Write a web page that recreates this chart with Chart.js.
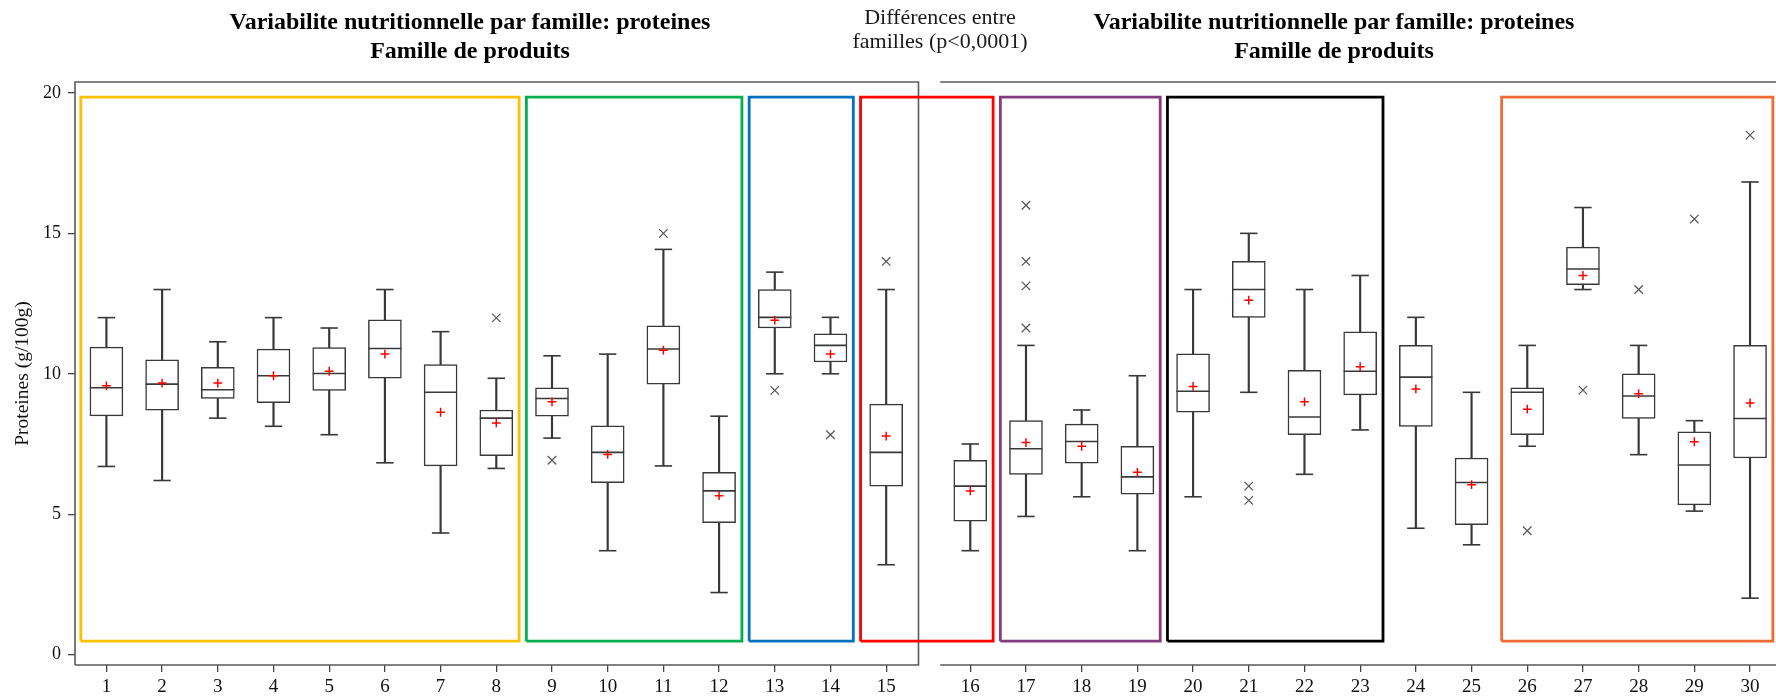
<!DOCTYPE html>
<html lang="fr">
<head>
<meta charset="utf-8">
<title>Variabilite nutritionnelle par famille: proteines</title>
<script src="https://cdn.jsdelivr.net/npm/chart.js@4.4.1/dist/chart.umd.min.js"></script>
<style>
body{margin:0;background:#fff;}
#wrap{position:relative;width:1776px;height:699px;overflow:hidden;}
#wrap canvas{position:absolute;left:0;top:0;}
.title{position:absolute;top:7px;width:600px;text-align:center;font-family:"Liberation Serif",serif;font-weight:bold;font-size:24px;line-height:29px;color:#000;white-space:nowrap;}
.note{position:absolute;left:740px;top:5px;width:400px;text-align:center;font-family:"Liberation Serif",serif;font-size:22px;line-height:24px;color:#1a1a1a;white-space:nowrap;}
</style>
</head>
<body>
<div id="wrap">
<canvas id="proteinChart" width="1776" height="699"></canvas>
<div class="title" style="left:170px">Variabilite nutritionnelle par famille: proteines<br>Famille de produits</div>
<div class="title" style="left:1034px">Variabilite nutritionnelle par famille: proteines<br>Famille de produits</div>
<div class="note">Différences entre<br>familles (p&lt;0,0001)</div>
</div>
<script>
// Box plot values per product (g/100g)

const categories = ["1","2","3","4","5","6","7","8","9","10","11","12","13","14","15",
"16","17","18","19","20","21","22","23","24","25","26","27","28","29","30"];

const whiskerLow = [6.7,6.2,8.42,8.13,7.83,6.83,4.33,6.63,7.71,3.7,6.72,2.21,10.0,10.0,3.2,
3.7,4.92,5.62,3.7,5.62,9.34,6.42,8.0,4.5,3.91,7.42,13.0,7.12,5.11,2.01];

const q1 = [8.5,8.7,9.12,8.97,9.41,9.84,6.72,7.08,8.49,6.12,9.63,4.7,11.63,10.42,6.0,
4.75,6.42,6.82,5.71,8.63,12.01,7.83,9.25,8.13,4.63,7.83,13.17,8.41,5.33,7.0];

const median = [9.5,9.63,9.43,9.93,10.01,10.9,9.34,8.42,9.12,7.2,10.88,5.83,12.01,11.01,7.2,
6.0,7.33,7.59,6.33,9.38,13.0,8.46,10.09,9.88,6.13,9.34,13.73,9.21,6.75,8.41];

const q3 = [10.95,10.5,10.23,10.88,10.93,11.92,10.33,8.71,9.5,8.15,11.71,6.49,13.0,11.42,8.92,
6.92,8.33,8.21,7.42,10.71,14.0,10.12,11.49,11.01,7.0,9.5,14.51,10.0,7.93,11.01];

const whiskerHigh = [12.0,13.0,11.14,12.0,11.63,13.0,11.5,9.84,10.64,10.7,14.43,8.49,13.62,12.01,13.0,
7.5,11.01,8.71,9.93,13.0,15.0,13.0,13.5,12.01,9.34,11.01,15.92,11.01,8.33,16.83];

const means = [9.57,9.67,9.67,9.93,10.09,10.7,8.63,8.25,9.0,7.13,10.84,5.66,11.91,10.7,7.78,
5.83,7.55,7.42,6.49,9.55,12.62,9.0,10.25,9.46,6.05,8.74,13.5,9.29,7.58,8.96];

const outlierCategory = [8,9,11,13,14,15,17,17,17,17,21,21,26,27,28,29,30];
const outlierValue = [11.99,6.92,15.0,9.41,7.83,14.0,16.0,14.0,13.13,11.63,6.0,5.49,4.41,9.42,13.0,15.51,18.5];

const yTicks = [0,5,10,15,20];

// product families (first and last product of each framed group)
const groupFirst = [1,9,13,15,17,20,26];
const groupLast = [8,12,14,16,19,23,30];

// broken axis: products 16-30 sit after a small gap
const gap = 0.51;
function xPos(cat){
return cat <= 15 ? cat : cat + gap;
}

const groupColors = ["#FFC000","#00B050","#0070C0","#FF0000","#843C7C","#000000","#EE6C33"];
const ink = "#383838";

const boxes = categories.map((c,i)=>({x:xPos(i+1),y:[q1[i],q3[i]]}));
const lowLines = categories.map((c,i)=>({x:xPos(i+1),y:[whiskerLow[i],q1[i]]}));
const highLines = categories.map((c,i)=>({x:xPos(i+1),y:[q3[i],whiskerHigh[i]]}));
const medians = categories.map((c,i)=>({x:xPos(i+1),y:median[i]}));
const caps = categories.flatMap((c,i)=>[
{x:xPos(i+1),y:whiskerLow[i]},
{x:xPos(i+1),y:whiskerHigh[i]}
]);
const meanPoints = categories.map((c,i)=>({x:xPos(i+1),y:means[i]}));
const outlierPoints = outlierCategory.map((c,i)=>({x:xPos(c),y:outlierValue[i]}));

const groupSets = groupFirst.map((first,g)=>{
const l = xPos(first) - 0.46;
const r = xPos(groupLast[g]) + 0.41;
return {
type:"line",
data:[{x:l,y:0.48},{x:l,y:19.85},{x:r,y:19.85},{x:r,y:0.48},{x:l,y:0.48}],
borderColor:groupColors[g],
borderWidth:2.8,
borderJoinStyle:"miter",
pointRadius:0,
fill:false,
tension:0,
order:10
};
});

// frame with the break between the two panels
const frame = {
id:"frame",
beforeDatasetsDraw(chart){
const {ctx,chartArea:a,scales:{x}} = chart;
const breakL = x.getPixelForValue(15.58);
const breakR = x.getPixelForValue(15.97);
ctx.save();
ctx.strokeStyle = "#595959";
ctx.lineWidth = 1.6;
ctx.beginPath();
ctx.moveTo(a.left,a.bottom);
ctx.lineTo(a.left,a.top);
ctx.lineTo(breakL,a.top);
ctx.lineTo(breakL,a.bottom);
ctx.lineTo(a.left,a.bottom);
ctx.moveTo(breakR,a.top);
ctx.lineTo(a.right,a.top);
ctx.moveTo(breakR,a.bottom);
ctx.lineTo(a.right,a.bottom);
ctx.stroke();
ctx.restore();
}
};

const tickFont = {family:"Liberation Serif",size:19};

new Chart(document.getElementById("proteinChart"),{

type:"bar",

data:{

datasets:[
...groupSets,
{
data:lowLines,
backgroundColor:ink,
borderWidth:0,
barThickness:1.5,
grouped:false,
order:6
},
{
data:highLines,
backgroundColor:ink,
borderWidth:0,
barThickness:1.5,
grouped:false,
order:6
},
{
data:boxes,
backgroundColor:"#ffffff",
borderColor:ink,
borderWidth:1.5,
borderSkipped:false,
barThickness:33,
grouped:false,
order:5
},
{
type:"line",
data:medians,
showLine:false,
pointStyle:"line",
pointRadius:16.5,
pointBorderColor:ink,
pointBorderWidth:1.6,
order:4
},
{
type:"line",
data:caps,
showLine:false,
pointStyle:"line",
pointRadius:8.7,
pointBorderColor:ink,
pointBorderWidth:1.6,
order:4
},
{
type:"line",
data:meanPoints,
showLine:false,
pointStyle:"cross",
pointRadius:4.4,
pointBorderColor:"#FF0000",
pointBorderWidth:1.5,
order:1
},
{
type:"line",
data:outlierPoints,
showLine:false,
pointStyle:"crossRot",
pointRadius:6,
pointBorderColor:"#555555",
pointBorderWidth:1.2,
order:1
}
]

},

options:{

responsive:false,
animation:false,
events:[],
layout:{autoPadding:false,padding:{top:82,left:0,right:0,bottom:0}},

plugins:{
legend:{display:false},
tooltip:{enabled:false}
},

scales:{

x:{
type:"linear",
min:0.436,
max:30.976,
offset:false,
border:{display:false},
grid:{drawOnChartArea:false,drawTicks:true,tickLength:7,color:"#444",lineWidth:1.3,offset:false},
afterBuildTicks(axis){
axis.ticks = categories.map((c,i)=>({value:xPos(i+1)}));
},
afterFit(axis){
axis.height = 34;
},
ticks:{
autoSkip:false,
maxRotation:0,
padding:4,
color:"#111",
font:tickFont,
callback:(v,i)=>categories[i]
}
},

y:{
min:-0.37,
max:20.39,
border:{display:false},
grid:{drawOnChartArea:false,drawTicks:true,tickLength:7,color:"#444",lineWidth:1.3},
afterBuildTicks(axis){
axis.ticks = yTicks.map(v=>({value:v}));
},
afterFit(axis){
axis.width = 75;
},
ticks:{
padding:7,
color:"#111",
font:{family:"Liberation Serif",size:18}
},
title:{
display:true,
text:"Proteines (g/100g)",
color:"#111",
font:{family:"Liberation Serif",size:19.5},
padding:{top:11,bottom:0}
}
}

}

},

plugins:[frame]

});
</script>
</body>
</html>
